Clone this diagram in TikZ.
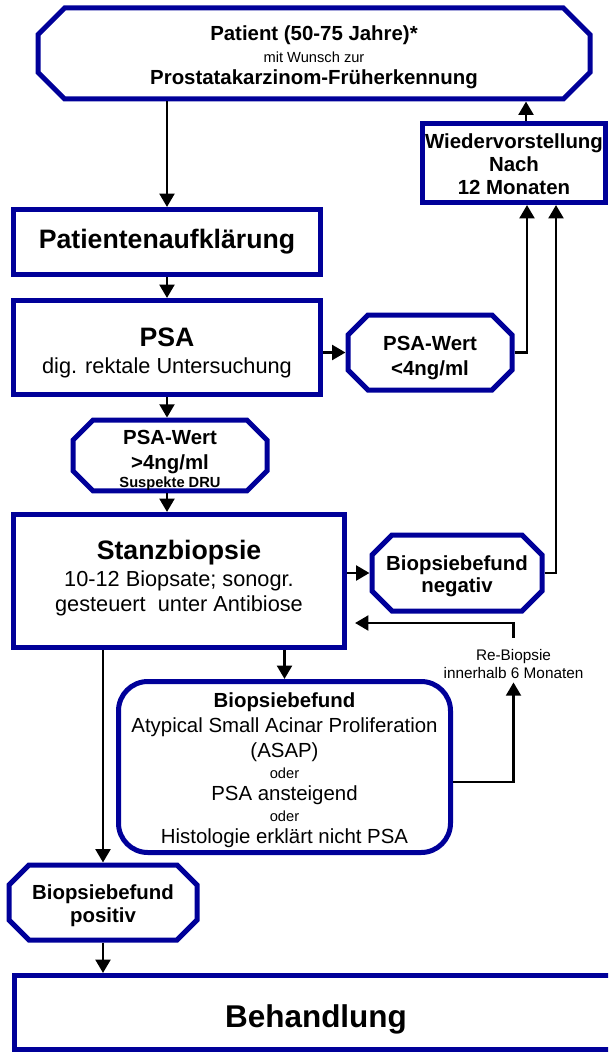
\documentclass[tikz,border=0pt]{standalone}
\usepackage{fontspec}
\setmainfont{Liberation Sans}
\usepackage{tikz}
\usetikzlibrary{arrows.meta}
\definecolor{framenavy}{RGB}{0, 0, 153}

\newcommand{\bigtxt}{\fontsize{20}{24}\selectfont\bfseries}
\newcommand{\midtxt}{\fontsize{16.3}{18.75}\selectfont}
\newcommand{\smalltxt}{\fontsize{11}{13.5}\selectfont}
\newcommand{\inset}{1.875pt}
\newcommand{\up}[1]{\rule{0pt}{#1}}

\begin{document}
\begin{tikzpicture}[x=0.75pt, y=-0.75pt,
    box/.style={draw=framenavy, line width=3.75pt, fill=white, align=center, inner sep=0pt},
    % octagon: frame drawn after the node, inset by half the line width
    octbox/.style={box, draw=none, fill=none,
      append after command={\pgfextra{\draw[framenavy, line width=3.75pt]
        ([xshift=\inset+#1, yshift=-\inset]\tikzlastnode.north west)
        -- ([xshift=-\inset-#1, yshift=-\inset]\tikzlastnode.north east)
        -- ([xshift=-\inset, yshift=-\inset-#1]\tikzlastnode.north east)
        -- ([xshift=-\inset, yshift=\inset+#1]\tikzlastnode.south east)
        -- ([xshift=-\inset-#1, yshift=\inset]\tikzlastnode.south east)
        -- ([xshift=\inset+#1, yshift=\inset]\tikzlastnode.south west)
        -- ([xshift=\inset, yshift=\inset+#1]\tikzlastnode.south west)
        -- ([xshift=\inset, yshift=-\inset-#1]\tikzlastnode.north west)
        -- cycle;}}},
    octbox/.default=15pt,
    arr/.style={-{Triangle[length=10pt, width=11pt]}, line width=2.2pt}]
    \useasboundingbox (0,0) rectangle (608,1052);
    \clip (0,0) rectangle (608,1052);

    % top row
    \node[octbox=20pt, minimum width=414pt, minimum height=68.25pt,
          font=\fontsize{15.3}{16.5}\selectfont\bfseries] (patient) at (314,53.5)
        {\up{17pt}Patient (50-75 Jahre)*\\{\mdseries\smalltxt mit Wunsch zur}\\Prostatakarzinom-Früherkennung};
    \node[box, minimum width=137.25pt, minimum height=59.25pt,
          font=\fontsize{15.3}{17.25}\selectfont\bfseries] (wieder) at (514,163)
        {\up{13pt}Wiedervorstellung\\Nach\\12 Monaten};

    % left column
    \node[box, minimum width=230.25pt, minimum height=48.75pt, font=\bigtxt] (aufkl) at (167,242)
        {Patientenaufklärung};
    \node[box, minimum width=230.25pt, minimum height=70.5pt, font=\midtxt] (psa) at (167,347.5)
        {{\bigtxt\up{22pt}PSA}\\[1.1pt]dig. rektale Untersuchung};
    \node[octbox, minimum width=123pt, minimum height=56.25pt,
          font=\fontsize{15.3}{18.75}\selectfont\bfseries] (psalow) at (430,352.5)
        {\up{18.5pt}PSA-Wert\\<4ng/ml};
    \node[octbox, minimum width=145.5pt, minimum height=51.75pt,
          font=\fontsize{15.3}{18.75}\selectfont\bfseries] (psahigh) at (170,455.5)
        {\up{18.5pt}PSA-Wert\\>4ng/ml\\[-5.25pt]{\smalltxt Suspekte DRU}};
    \node[box, minimum width=248.25pt, minimum height=99.75pt, font=\midtxt] (stanz) at (179,581)
        {{\bigtxt Stanzbiopsie}\\[1.1pt]10-12 Biopsate; sonogr.\\gesteuert\ \ unter Antibiose\rule[-8pt]{0pt}{8pt}};
    \node[octbox, minimum width=127.5pt, minimum height=57pt,
          font=\fontsize{15.3}{16.5}\selectfont\bfseries] (bneg) at (457,573)
        {\up{16pt}Biopsiebefund\\negativ};
    \node[box, rounded corners=22pt, minimum width=249pt, minimum height=128.25pt,
          font=\fontsize{15.3}{18.75}\selectfont] (asap) at (284.5,767)
        {\up{16pt}\textbf{Biopsiebefund}\\Atypical Small Acinar Proliferation\\(ASAP)\\[-3.2pt]{\smalltxt oder}\\[-2.2pt]PSA ansteigend\\[-3.2pt]{\smalltxt oder}\\[-2.2pt]Histologie erklärt nicht PSA};
    \node[font=\fontsize{11.5}{13.5}\selectfont, align=center, inner xsep=0pt, inner ysep=2.6pt] (rebio) at (513.5,664)
        {Re-Biopsie\\innerhalb 6 Monaten};
    \node[octbox, minimum width=141pt, minimum height=56.25pt,
          font=\fontsize{15.3}{17.25}\selectfont\bfseries] (bpos) at (103,902.5)
        {\up{16pt}Biopsiebefund\\positiv};
    \node[box, minimum width=452.25pt, minimum height=55.5pt,
          font=\fontsize{23.6}{28}\selectfont\bfseries] (behand) at (316,1012.5) {\up{27pt}Behandlung};

    % main path
    \draw[arr] (patient.south -| aufkl.north) -- (aufkl.north);
    \draw[arr] (aufkl.south) -- (psa.north);
    \draw[arr] (psa.east |- psalow.west) -- (psalow.west);
    \draw[arr] (psa.south) -- (psa.south |- psahigh.north);
    \draw[arr] (psahigh.south -| psa.south) -- (psa.south |- stanz.north);
    \draw[arr] (stanz.east |- bneg.west) -- (bneg.west);
    \draw[arr] (stanz.south -| asap.north) -- (asap.north);
    \draw[arr] (stanz.south -| bpos.north) -- (bpos.north);
    \draw[arr] (bpos.south) -- (bpos.south |- behand.north);

    % back to Wiedervorstellung
    \coordinate (win1) at ([xshift=9.75pt]wieder.south);
    \coordinate (win2) at ([xshift=31.5pt]wieder.south);
    \coordinate (wout) at ([xshift=9pt]wieder.north);
    \draw[arr] (psalow.east) -| (win1);
    \draw[arr] (bneg.east) -| (win2);
    \draw[arr] (wout) -- (wout |- patient.south);

    % re-biopsy loop
    \coordinate (aout) at ([yshift=-11.25pt]asap.east);
    \coordinate (sback) at ([yshift=-31.5pt]stanz.east);
    \draw[arr] (aout) -| (rebio.south);
    \draw[arr, shorten <=6pt, shorten >=6pt] (rebio.north) |- (sback);
\end{tikzpicture}
\end{document}
